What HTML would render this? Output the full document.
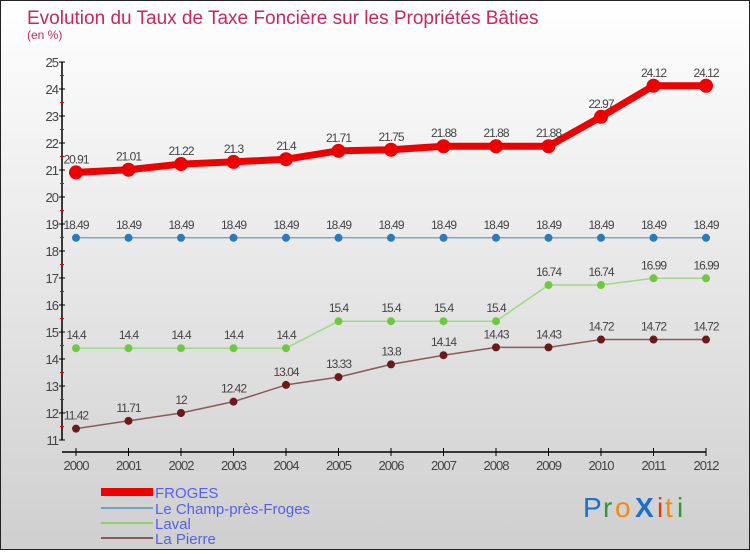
<!DOCTYPE html>
<html><head><meta charset="utf-8"><style>
html,body{margin:0;padding:0}
body{width:750px;height:550px;overflow:hidden;font-family:"Liberation Sans",sans-serif}
#wrap{position:relative;width:748px;height:548px;border:1px solid #222;background:linear-gradient(#ffffff,#cfcfcf)}
svg text{font-family:"Liberation Sans",sans-serif}
</style></head><body>
<div id="wrap">
<svg id="chart" width="748" height="548">
<text x="26" y="23" font-size="19" fill="#c8285a">Evolution du Taux de Taxe Foncière sur les Propriétés Bâties</text>
<text x="26" y="38" font-size="12" fill="#c8285a">(en %)</text>
<g id="axes"></g><g id="series"></g>
<g>
<rect x="100" y="487" width="52" height="8" fill="#ee0000"/>
<text x="154" y="497" font-size="15" fill="#5560ee">FROGES</text>
<line x1="100" y1="507" x2="152" y2="507" stroke="#6fa0c8" stroke-width="2"/>
<text x="154" y="513" font-size="15" fill="#5560ee">Le Champ-près-Froges</text>
<line x1="100" y1="522" x2="152" y2="522" stroke="#90d070" stroke-width="2"/>
<text x="154" y="528" font-size="15" fill="#5560ee">Laval</text>
<line x1="100" y1="537" x2="152" y2="537" stroke="#8a5a5a" stroke-width="2"/>
<text x="154" y="543" font-size="15" fill="#5560ee">La Pierre</text>
</g>
<g font-size="28" font-family="Liberation Sans">
<text x="582" y="516" fill="#1a6fd0">P</text><text x="602" y="516" fill="#2a9a3a">r</text><text x="614" y="516" fill="#f08a10">o</text><text x="634" y="516" fill="#1a6fd0" font-weight="bold">X</text><text x="656" y="516" fill="#e83a10">i</text><text x="664" y="516" fill="#f08a10">t</text><text x="676" y="516" fill="#2a9a3a">i</text>
</g>
</svg></div>
<script>
const years=[2000,2001,2002,2003,2004,2005,2006,2007,2008,2009,2010,2011,2012];
const froges=[20.91,21.01,21.22,21.3,21.4,21.71,21.75,21.88,21.88,21.88,22.97,24.12,24.12];
const champ=[18.49,18.49,18.49,18.49,18.49,18.49,18.49,18.49,18.49,18.49,18.49,18.49,18.49];
const laval=[14.4,14.4,14.4,14.4,14.4,15.4,15.4,15.4,15.4,16.74,16.74,16.99,16.99];
const lapierre=[11.42,11.71,12,12.42,13.04,13.33,13.8,14.14,14.43,14.43,14.72,14.72,14.72];
const yTicks=[11,12,13,14,15,16,17,18,19,20,21,22,23,24,25];
const NS='http://www.w3.org/2000/svg';
const xs=i=>75+i*52.5;
const ys=v=>61+(25-v)*27;
function mk(t,a,p){const e=document.createElementNS(NS,t);for(const k in a)e.setAttribute(k,a[k]);p.appendChild(e);return e;}
const ax=document.getElementById('axes');
const yl=mk('line',{x1:61,y1:ys(25),x2:61,y2:ys(11),stroke:'#000','stroke-width':1.5},ax);


const xl=mk('line',{x1:61,y1:451,x2:xs(12),y2:451,stroke:'#000','stroke-width':1.5},ax);


yTicks.forEach((v,i)=>{
 mk('line',{x1:58,y1:ys(v),x2:64,y2:ys(v),stroke:'#000'},ax);
 if(i<yTicks.length-1) mk('line',{x1:59,y1:ys(v+0.5),x2:63,y2:ys(v+0.5),stroke:'#e00'},ax);
 const t=mk('text',{x:57,y:ys(v)+5,'text-anchor':'end','font-size':13,fill:'#444','letter-spacing':'-1'},ax);
 t.textContent=v;
 
 
});
years.forEach((y,i)=>{
 mk('line',{x1:xs(i),y1:447,x2:xs(i),y2:455,stroke:'#000'},ax);
 const t=mk('text',{x:xs(i),y:469,'text-anchor':'middle','font-size':13,fill:'#444','letter-spacing':'-1'},ax);
 t.textContent=y;
 
 
});
const sg=document.getElementById('series');
function series(vals,name,color,w,r,dot){
 const g=mk('g',{},sg);
 
 
 const pl=mk('polyline',{points:vals.map((v,i)=>xs(i)+','+ys(v)).join(' '),fill:'none',stroke:color,'stroke-width':w,'stroke-linejoin':'round'},g);
 
 
 vals.forEach((v,i)=>{
  const c=mk('circle',{cx:xs(i),cy:ys(v),r:r,fill:dot},g);
  
  
  const t=mk('text',{x:xs(i),y:ys(v)-9,'text-anchor':'middle','font-size':12,fill:'#444','letter-spacing':'-1'},g);
  t.textContent=v;
  
  
 });
}
series(lapierre,'la-pierre','#8a5a5a',1.5,4,'#6a1a1a');
series(laval,'laval','#a0d888',1.5,4,'#70c840');
series(champ,'champ-pres-froges','#7aa8cc',1.5,4,'#2a7ac0');
series(froges,'froges','#ee0000',7,7,'#ee0000');
</script>
</body></html>
